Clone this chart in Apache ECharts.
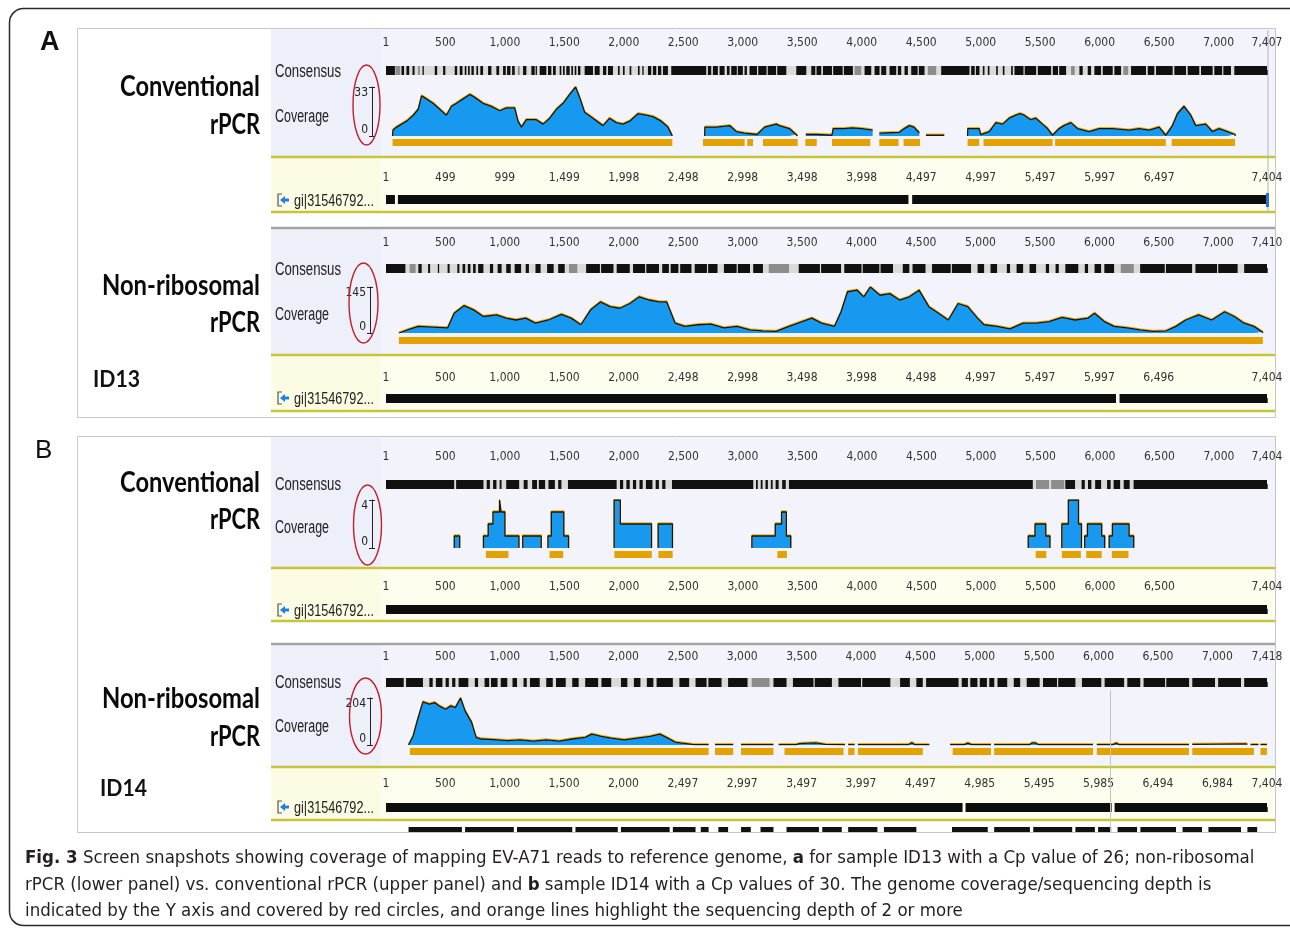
<!DOCTYPE html>
<html><head><meta charset="utf-8">
<script src="https://cdn.jsdelivr.net/npm/echarts@6/dist/echarts.min.js"></script>
<style>html,body{margin:0;padding:0;background:#fff}#c{width:1290px;height:929px}</style>
</head><body><div id="c"></div>
<script>
// ---------------- DATA ----------------
// Consensus-axis ticks (genome positions) per panel
const consTicksA1 = [1,500,1000,1500,2000,2500,3000,3500,4000,4500,5000,5500,6000,6500,7000,7407];
const consTicksA2 = [1,500,1000,1500,2000,2500,3000,3500,4000,4500,5000,5500,6000,6500,7000,7410];
const consTicksB1 = [1,500,1000,1500,2000,2500,3000,3500,4000,4500,5000,5500,6000,6500,7000,7404];
const consTicksB2 = [1,500,1000,1500,2000,2500,3000,3500,4000,4500,5000,5500,6000,6500,7000,7418];
// Reference-track ticks (at consensus positions) and their labels
const refPosA1 = [1,500,1000,1500,2000,2500,3000,3500,4000,4500,5000,5500,6000,6500,7407];
const refLabA1 = ['1','499','999','1,499','1,998','2,498','2,998','3,498','3,998','4,497','4,997','5,497','5,997','6,497','7,404'];
const refPosA2 = [1,500,1000,1500,2000,2500,3000,3500,4000,4500,5000,5500,6000,6500,7410];
const refLabA2 = ['1','500','1,000','1,500','2,000','2,498','2,998','3,498','3,998','4,498','4,997','5,497','5,997','6,496','7,404'];
const refPosB1 = [1,500,1000,1500,2000,2500,3000,3500,4000,4500,5000,5500,6000,6500,7404];
const refLabB1 = ['1','500','1,000','1,500','2,000','2,500','3,000','3,500','4,000','4,500','5,000','5,500','6,000','6,500','7,404'];
const refPosB2 = [1,500,1000,1500,2000,2500,3000,3500,4000,4500,5000,5500,6000,6500,7000,7418];
const refLabB2 = ['1','500','1,000','1,500','2,000','2,497','2,997','3,497','3,997','4,497','4,985','5,495','5,985','6,494','6,984','7,404'];
// Coverage y-axis maxima
const covMax = [33, 145, 4, 204];

// Coverage profiles [position, depth]; null = no reads
const covA1 = [[56,0],[60,4],[90,6],[174,10],[230,14],[272,18],[300,27],[341,25],[397,22],[453,18],[509,14],[551,20],[593,22],[649,25],[705,28],[747,26],[817,22],[887,20],[957,17],[1013,19],[1083,19],[1111,10],[1139,6],[1181,11],[1265,11],[1321,8],[1377,12],[1433,18],[1489,22],[1545,28],[1595,33],[1629,26],[1671,16],[1741,12],[1825,7],[1881,12],[1937,9],[1993,8],[2049,10],[2119,15],[2189,14],[2245,13],[2315,10],[2371,6],[2408,0],[2409,null],
 [2680,0],[2682,6],[2778,6],[2890,7],[2946,3],[3016,2],[3030,1],[3120,1],[3184,6],[3282,8],[3308,7],[3392,5],[3448,1],[3460,0],[3461,null],
 [3530,1],[3620,1],[3630,0.5],[3750,0.5],[3760,5],[3850,5],[3920,5.5],[4000,5],[4092,4],[4100,null],
 [4148,2],[4316,2.5],[4330,1.5],[4358,5],[4400,7],[4440,6],[4484,2],[4500,null],
 [4540,0.5],[4694,0.5],[4700,null],
 [4890,0],[4892,5],[4988,5],[5000,1],[5016,0.5],[5072,3],[5128,9],[5184,8],[5240,12],[5296,14],[5330,15],[5366,14],[5422,11],[5464,12],[5520,8],[5562,5],[5604,0.5],[5660,5],[5700,7],[5758,9],[5814,5],[5912,3],[5996,5],[6108,5],[6248,4],[6332,5],[6416,4],[6500,6],[6556,0.5],[6612,7],[6654,15],[6710,20],[6766,14],[6808,7],[6892,8],[6948,3],[7004,5],[7074,3],[7138,1],[7140,0]];
const covA2 = [[109,0],[112,3],[200,12],[273,21],[437,18],[519,16],[574,62],[656,86],[738,73],[820,52],[930,57],[1012,47],[1094,41],[1176,47],[1258,31],[1367,41],[1476,59],[1558,47],[1640,26],[1722,73],[1804,98],[1886,83],[1969,78],[2051,93],[2132,114],[2214,104],[2297,98],[2362,98],[2433,31],[2515,21],[2625,26],[2734,28],[2843,16],[2953,21],[3062,10],[3171,7],[3281,5],[3390,21],[3500,36],[3582,47],[3664,31],[3773,21],[3828,67],[3882,130],[3964,135],[4019,114],[4074,145],[4156,119],[4238,124],[4320,104],[4402,114],[4484,135],[4566,83],[4648,62],[4730,41],[4812,93],[4894,83],[4976,47],[5031,26],[5140,21],[5249,13],[5359,31],[5468,31],[5577,36],[5687,49],[5796,41],[5905,47],[5960,62],[6042,36],[6124,21],[6233,16],[6343,10],[6452,5],[6562,7],[6644,21],[6726,41],[6835,57],[6945,41],[7054,67],[7136,52],[7218,31],[7300,21],[7371,3],[7375,0]];
const covB1 = [[575,0],[575,1],[620,1],[620,0],[621,null],
 [820,0],[820,1],[860,1],[860,2],[900,2],[900,3],[955,3],[955,4],[968,4],[968,3],[1000,3],[1000,1],[1118,1],[1118,0],[1119,null],
 [1150,0],[1150,1],[1305,1],[1305,0],[1306,null],
 [1362,0],[1362,1],[1390,1],[1390,3],[1495,3],[1495,1],[1535,1],[1535,0],[1536,null],
 [1918,0],[1918,4],[1970,4],[1970,2],[2232,2],[2232,0],[2233,null],
 [2288,0],[2288,2],[2408,2],[2408,0],[2409,null],
 [3076,0],[3076,1],[3272,1],[3272,2],[3325,2],[3325,3],[3365,3],[3365,1],[3402,1],[3402,0],[3403,null],
 [5398,0],[5398,1],[5455,1],[5455,2],[5545,2],[5545,1],[5580,1],[5580,0],[5581,null],
 [5680,0],[5680,2],[5735,2],[5735,4],[5820,4],[5820,2],[5845,2],[5845,0],[5846,null],
 [5872,0],[5872,1],[5895,1],[5895,2],[6015,2],[6015,1],[6040,1],[6040,0],[6041,null],
 [6078,0],[6078,1],[6105,1],[6105,2],[6245,2],[6245,1],[6284,1],[6284,0]];
const covB2 = [[191,0],[230,40],[268,112],[312,187],[366,177],[410,184],[448,170],[503,155],[547,170],[585,162],[629,204],[667,148],[722,98],[760,33],[803,26],[913,23],[1022,19],[1131,22],[1241,17],[1350,22],[1459,17],[1569,26],[1678,33],[1733,47],[1815,37],[1897,30],[2006,22],[2115,30],[2225,37],[2307,47],[2361,33],[2443,11],[2580,3],[2600,2],[2717,2],[2718,null],
 [2771,2],[2924,2],[2925,null],
 [2990,2],[3263,2],[3264,null],
 [3307,2],[3455,2],[3482,6],[3560,8],[3620,9],[3700,3],[3865,2],[3866,null],
 [3892,2],[3946,2],[3947,null],
 [3974,2],[4400,2],[4430,10],[4450,2],[4575,2],[4576,null],
 [4750,2],[4870,2],[4900,8],[4930,2],[5094,2],[5095,null],
 [5121,2],[5420,2],[5440,9],[5470,9],[5490,2],[5953,2],[5954,null],
 [5985,2],[6120,2],[6150,8],[6170,2],[6761,2],[6762,null],
 [6789,3],[6800,5],[7240,5],[7253,3],[7254,null],
 [7280,2],[7346,2],[7347,null],
 [7363,2],[7417,2]];

// Depth >= 2 ranges (orange lines) [start, end]
const orangeA1 = [[56,2408],[2666,3016],[3038,3086],[3170,3462],[3526,3622],[3750,4072],[4148,4310],[4352,4490],[4890,4988],[5024,5604],[5626,6556],[6606,7138]];
const orangeA2 = [[109,7375]];
const orangeB1 = [[840,1030],[1375,1490],[1920,2235],[2290,2410],[3290,3370],[5460,5550],[5680,5840],[5885,6015],[6100,6240]];
const orangeB2 = [[202,2717],[2771,2924],[2990,3263],[3356,3853],[3892,3946],[3974,4520],[4772,5094],[5121,5953],[5985,6761],[6789,7308],[7363,7417]];

// Consensus bar segments [start, end, shade(0 black, 1 grey)]
const consA1 = [[1,76,0],[80,120,1],[131,153,0],[173,196,0],[224,241,0],[270,285,1],[308,319,0],[411,431,0],[481,500,0],[579,599,0],[621,644,0],[663,677,0],[691,705,0],[719,739,0],[761,775,0],[794,817,0],[859,887,0],[929,952,0],[985,1008,0],[1019,1047,0],[1061,1083,0],[1110,1125,1],[1153,1181,0],[1223,1251,0],[1259,1270,0],[1293,1349,0],[1363,1391,0],[1405,1428,0],[1461,1475,0],[1489,1503,0],[1517,1545,0],[1559,1573,0],[1587,1601,0],[1615,1635,0],[1671,1741,0],[1755,1797,0],[1825,1853,0],[1867,1909,0],[1951,1965,0],[1993,2007,0],[2049,2063,0],[2119,2133,0],[2156,2167,0],[2203,2231,0],[2245,2273,0],[2287,2315,0],[2329,2371,0],[2399,2693,0],[2707,2735,0],[2749,2791,0],[2805,2847,0],[2867,2889,0],[2903,2950,0],[2958,3001,0],[3015,3035,0],[3057,3120,0],[3130,3200,0],[3210,3280,0],[3290,3366,0],[3450,3534,0],[3576,3610,0],[3620,3660,0],[3674,3750,0],[3760,3840,0],[3850,3926,0],[3940,3996,1],[4024,4080,0],[4108,4150,0],[4164,4206,0],[4234,4290,0],[4304,4332,0],[4360,4388,0],[4416,4470,0],[4480,4528,0],[4556,4626,1],[4668,4906,0],[4920,4950,0],[4960,4990,0],[5018,5032,0],[5060,5074,0],[5130,5144,0],[5186,5200,0],[5256,5270,0],[5284,5360,0],[5370,5466,0],[5480,5592,0],[5606,5650,0],[5660,5718,0],[5760,5790,1],[5830,5858,0],[5900,5928,0],[5956,6012,0],[6026,6110,0],[6124,6180,0],[6200,6240,1],[6264,6390,0],[6404,6460,0],[6474,6614,0],[6628,6726,0],[6740,6838,0],[6852,6950,0],[6964,7030,0],[7040,7104,0],[7132,7407,0]];
const consA2 = [[1,164,0],[200,250,1],[273,301,0],[355,372,0],[437,448,0],[519,536,0],[601,618,0],[645,667,0],[689,711,0],[733,755,0],[776,820,0],[875,902,0],[940,973,0],[1012,1050,0],[1083,1137,0],[1176,1203,0],[1258,1301,0],[1356,1411,0],[1449,1504,0],[1540,1610,1],[1684,1800,0],[1810,1914,0],[1941,2051,0],[2078,2180,0],[2190,2297,0],[2324,2380,0],[2395,2460,0],[2475,2570,0],[2597,2700,0],[2710,2789,0],[2843,2950,0],[2960,3062,0],[3089,3171,0],[3220,3390,1],[3472,3650,0],[3660,3828,0],[3855,4000,0],[4010,4150,0],[4160,4265,0],[4347,4402,0],[4429,4538,0],[4593,4750,0],[4760,4921,0],[4976,5031,0],[5085,5140,0],[5222,5249,0],[5304,5359,0],[5413,5468,0],[5550,5577,0],[5632,5659,0],[5714,5823,0],[5878,5905,0],[5960,6015,0],[6042,6124,0],[6180,6290,1],[6343,6550,0],[6560,6780,0],[6808,6990,0],[7000,7163,0],[7218,7410,0]];
const consB1 = [[1,574,0],[590,820,0],[847,874,0],[901,929,0],[956,972,0],[1011,1120,0],[1158,1191,0],[1229,1270,0],[1285,1338,0],[1366,1420,0],[1448,1475,0],[1530,1939,0],[1967,1994,0],[2021,2049,0],[2076,2103,0],[2131,2158,0],[2185,2240,0],[2267,2294,0],[2322,2349,0],[2404,3087,0],[3110,3125,0],[3150,3165,0],[3190,3210,0],[3235,3250,0],[3275,3300,0],[3330,3360,0],[3387,5436,0],[5463,5573,1],[5590,5700,1],[5709,5791,0],[5846,5873,0],[5900,5928,0],[5960,6010,0],[6060,6090,0],[6115,6170,0],[6200,6250,0],[6283,7404,0]];
const consB2 = [[1,150,0],[170,312,0],[366,394,0],[421,476,0],[503,530,0],[558,585,0],[612,694,0],[749,776,0],[831,870,0],[885,940,0],[967,1022,0],[1066,1104,0],[1159,1186,0],[1213,1295,0],[1350,1405,0],[1432,1514,0],[1569,1623,0],[1678,1787,0],[1815,1897,0],[1979,2033,0],[2088,2143,0],[2197,2252,0],[2279,2416,0],[2471,2553,0],[2607,2700,0],[2715,2826,0],[2881,3045,0],[3080,3230,1],[3263,3373,0],[3427,3600,0],[3610,3755,0],[3810,4000,0],[4010,4247,0],[4329,4411,0],[4466,4520,0],[4548,4821,0],[4848,4900,0],[4920,4980,0],[5000,5060,0],[5080,5122,0],[5149,5231,0],[5286,5340,0],[5395,5504,0],[5532,5650,0],[5660,5805,0],[5860,6023,0],[6051,6215,0],[6242,6351,0],[6379,6560,0],[6570,6762,0],[6789,6980,0],[7007,7199,0],[7226,7418,0]];

// Reference sequence bars [start, end]
const refA1 = [[1,76],[101,4393],[4424,7407]];
const refA2 = [[1,6140],[6170,7410]];
const refB1 = [[1,7404]];
const refB2 = [[1,4855],[4880,6110],[6135,7418]];
// Read track partly visible under panel B (lower)
const readsB2 = [[191,640],[667,1077],[1104,1569],[1596,1952],[1979,2389],[2416,2607],[2651,2717],[2799,2881],[2990,3072],[3154,3263],[3373,3646],[3674,3838],[3892,4138],[4193,4466],[4766,5067],[5121,5422],[5450,5778],[5805,5969],[5996,6106],[6160,6324],[6352,6652],[6707,6871],[6925,7199],[7253,7335]];

// ---------------- LAYOUT ----------------
const NARROW = '"Liberation Sans Narrow","DejaVu Sans Condensed",sans-serif';
const SANS = '"Liberation Sans",Arial,sans-serif';
const panels = [
 {cons:consA1, cov:covA1, orange:orangeA1, ref:refA1, ct:consTicksA1, rp:refPosA1, rl:refLabA1, ymax:covMax[0],
  consTop:66, consOff:8, consMargin:9, covTop:87, covH:49, orTop:139, refTop:195, refOff:2, refMargin:9, yOff:14},
 {cons:consA2, cov:covA2, orange:orangeA2, ref:refA2, ct:consTicksA2, rp:refPosA2, rl:refLabA2, ymax:covMax[1],
  consTop:264, consOff:6, consMargin:9, covTop:287, covH:46, orTop:337, refTop:394, refOff:1, refMargin:9, yOff:16},
 {cons:consB1, cov:covB1, orange:orangeB1, ref:refB1, ct:consTicksB1, rp:refPosB1, rl:refLabB1, ymax:covMax[2],
  consTop:480, consOff:7, consMargin:10, covTop:500, covH:48, orTop:551, refTop:605, refOff:2, refMargin:10, yOff:14},
 {cons:consB2, cov:covB2, orange:orangeB2, ref:refB2, ct:consTicksB2, rp:refPosB2, rl:refLabB2, ymax:covMax[3],
  consTop:678, consOff:6, consMargin:9, covTop:698, covH:47, orTop:748, refTop:803, refOff:2, refMargin:11, yOff:16}
];

const grids=[], xAxes=[], yAxes=[], series=[];
function addGrid(top,height){ grids.push({left:386,width:881,top:top,height:height,containLabel:false,outerBoundsMode:'none'}); return grids.length-1; }
const shadeColor = ['#111111','#8c8c8c','#dadada'];
function rectItem(color){
  return function(params, api){
    const a = api.coord([api.value(0), 1]);
    const b = api.coord([api.value(1), 0]);
    const c = color || shadeColor[api.value(2)];
    return {type:'rect', shape:{x:a[0], y:a[1], width:Math.max(b[0]-a[0],0.8), height:b[1]-a[1]}, style:{fill:c}};
  };
}
function tickAxis(ticks, fmt, offset, margin){
  return {show:true, position:'top', offset:offset,
    axisLine:{show:false}, splitLine:{show:false},
    axisTick:{show:true, customValues:ticks, length:5, lineStyle:{color:'#555',width:1}},
    axisLabel:{show:true, customValues:ticks, margin:margin, formatter:fmt, fontSize:12, color:'#333', fontFamily:NARROW, showMinLabel:true, showMaxLabel:true, hideOverlap:false}};
}
function addTrack(top, height, max, data, color, axisCfg){
  const g = addGrid(top, height);
  xAxes.push(Object.assign({type:'value', gridIndex:g, min:1, max:max}, axisCfg || {show:false}));
  yAxes.push({type:'value', gridIndex:g, min:0, max:1, show:false});
  series.push({type:'custom', xAxisIndex:xAxes.length-1, yAxisIndex:yAxes.length-1, data:data,
    encode:{x:[0,1]}, renderItem:rectItem(color), silent:true, animation:false, clip:true});
}
function splitSegs(arr){
  const out=[]; let cur=[];
  arr.forEach(p=>{ if(p[1]===null){ if(cur.length) out.push(cur); cur=[]; } else cur.push(p); });
  if(cur.length) out.push(cur);
  return out;
}
const fmtNum = v => v===1 ? '1' : Number(v).toLocaleString('en-US');

panels.forEach(p=>{
  const max = p.ct[p.ct.length-1];
  addTrack(p.consTop, 9, max, [[1,max,2]].concat(p.cons), null, tickAxis(p.ct, fmtNum, p.consOff, p.consMargin));
  const g = addGrid(p.covTop, p.covH);
  xAxes.push({type:'value', gridIndex:g, min:1, max:max, show:false});
  const xi = xAxes.length-1;
  yAxes.push({type:'value', gridIndex:g, min:0, max:p.ymax, interval:p.ymax, position:'left', offset:p.yOff,
    axisLine:{show:true, lineStyle:{color:'#222', width:1}}, axisTick:{show:true, length:3, lineStyle:{color:'#222'}},
    splitLine:{show:false},
    axisLabel:{margin:4, fontSize:12, color:'#222', fontFamily:NARROW, verticalAlign:'top', formatter:v=> v===p.ymax ? String(v) : ''}});
  const yi = yAxes.length-1;
  yAxes.push({type:'value', gridIndex:g, min:0, max:p.ymax, interval:p.ymax, position:'left', offset:p.yOff,
    axisLine:{show:false}, axisTick:{show:true, inside:true, length:3, lineStyle:{color:'#222'}},
    splitLine:{show:false},
    axisLabel:{margin:4, fontSize:12, color:'#222', fontFamily:NARROW, verticalAlign:'bottom', formatter:v=> v===0 ? '0' : ''}});
  splitSegs(p.cov).forEach(seg=>{
    series.push({type:'line', xAxisIndex:xi, yAxisIndex:yi, data:seg, showSymbol:false, symbol:'none',
      lineStyle:{color:'#151515', width:1.3, shadowColor:'#f2ad00', shadowOffsetY:-1, shadowBlur:0},
      areaStyle:{color:'#1799ef', opacity:1}, silent:true, animation:false, clip:true, z:3});
  });
  addTrack(p.orTop, 7, max, p.orange, '#e3a200');
  const rmap = {}; p.rp.forEach((v,i)=>{ rmap[v]=p.rl[i]; });
  addTrack(p.refTop, 9, max, p.ref, '#0d0d0d', tickAxis(p.rp, v=> rmap[v]!==undefined ? rmap[v] : '', p.refOff, p.refMargin));
});
addTrack(827, 5, consTicksB2[consTicksB2.length-1], readsB2, '#111');

// ---------------- DECORATION ----------------
const G = [];
const mctx = document.createElement('canvas').getContext('2d');
function fitScale(t, weight, size, family, target){
  if(!target) return 1;
  mctx.font = (weight||'normal') + ' ' + size + 'px ' + family;
  const w = mctx.measureText(t).width;
  return w > 0 ? target / w : 1;
}
function rect(x,y,w,h,fill,stroke,lw,z,r){ G.push({type:'rect', z:z||-20, silent:true, shape:{x:x,y:y,width:w,height:h,r:r||0}, style:{fill:fill||'none', stroke:stroke||null, lineWidth:lw||0}}); }
function hline(x1,x2,y,color,w,z){ G.push({type:'line', z:z||-5, silent:true, shape:{x1:x1,y1:y,x2:x2,y2:y}, style:{stroke:color, lineWidth:w}}); }
function vline(x,y1,y2,color,w,z){ G.push({type:'line', z:z||-5, silent:true, shape:{x1:x,y1:y1,x2:x,y2:y2}, style:{stroke:color, lineWidth:w}}); }
function text(t,x,y,opts,target){
  const o = Object.assign({text:t, x:0, y:0, fill:'#111', textVerticalAlign:'middle', textAlign:'left', fontFamily:NARROW, fontSize:16, fontWeight:'normal'}, opts||{});
  const s = target ? fitScale(t, o.fontWeight, o.fontSize, o.fontFamily, target) : 1;
  G.push({type:'text', z:50, silent:true, x:x, y:y, scaleX:s, style:o});
}
function ellipse(cx,cy,rx,ry){ G.push({type:'ellipse', z:60, silent:true, shape:{cx:cx,cy:cy,rx:rx,ry:ry}, style:{fill:'none', stroke:'#c41e2a', lineWidth:1.4}}); }

rect(9.5, 8.5, 1300, 917, '#ffffff', '#2a2a2a', 1.5, -40, 14);
rect(77.5, 28.5, 1198, 389, '#ffffff', '#c6c6c6', 1, -30);
rect(77.5, 436.5, 1198, 396, '#ffffff', '#c6c6c6', 1, -30);
const LAV1='#edeff9', LAV2='#f3f4fb', CR1='#fcfce4', CR2='#fefeee', YEL='#c5c43a';
function subpanel(lt, lb, cb){
  rect(271, lt, 110, lb-lt, LAV1, null, 0, -25);
  rect(381, lt, 894, lb-lt, LAV2, null, 0, -25);
  hline(271, 1275, lb+1, YEL, 2.5);
  rect(271, lb+2.5, 110, cb-lb-3.5, CR1, null, 0, -25);
  rect(381, lb+2.5, 894, cb-lb-3.5, CR2, null, 0, -25);
  hline(271, 1275, cb, YEL, 2.5);
}
subpanel(29, 156, 212);
hline(271, 1275, 228, '#a3a3a3', 2.5);
subpanel(229.5, 354, 411);
subpanel(437, 567, 621);
hline(271, 1275, 644, '#a3a3a3', 2.5);
subpanel(645.5, 766, 820);
vline(1268, 30, 211, '#a8b3c9', 1, -4);
rect(1266, 193, 3, 14, '#2f6fd0', null, 0, 40);
vline(1110.5, 690, 832, '#c4c4c4', 1, 40);

// panel letters / sample labels
text('A', 40, 43, {fontFamily:SANS, fontWeight:'bold', fontSize:27});
text('B', 35, 451, {fontFamily:SANS, fontSize:26});
const BIGF = 'Lato,"Open Sans",sans-serif';
const big = {fontFamily:BIGF, fontWeight:'bold', fontSize:29, textAlign:'right', fill:'#0a0a0a'};
text('Conventional', 260, 87, big, 140); text('rPCR', 260, 125, big, 50);
text('Non-ribosomal', 260, 286, big, 158); text('rPCR', 260, 323, big, 50);
text('Conventional', 260, 483, big, 140); text('rPCR', 260, 520, big, 50);
text('Non-ribosomal', 260, 699, big, 158); text('rPCR', 260, 737, big, 50);
text('ID13', 93, 380, {fontFamily:BIGF, fontWeight:'bold', fontSize:23}, 47);
text('ID14', 100, 789, {fontFamily:BIGF, fontWeight:'bold', fontSize:23}, 47);
[[72,117,200],[270,315,398],[485,528,610],[683,727,807]].forEach(r=>{
  text('Consensus', 275, r[0], {fontFamily:SANS, fontSize:18, fill:'#222'}, 66);
  text('Coverage', 275, r[1], {fontFamily:SANS, fontSize:18, fill:'#222'}, 54);
  text('gi|31546792...', 294, r[2]+1, {fontFamily:SANS, fontSize:17, fill:'#222'}, 80);
  G.push({type:'polyline', z:50, silent:true, shape:{points:[[282,r[2]-6],[278,r[2]-6],[278,r[2]+6],[282,r[2]+6]]}, style:{stroke:'#555', lineWidth:1.2, fill:'none'}});
  G.push({type:'polygon', z:50, silent:true, shape:{points:[[280,r[2]],[285,r[2]-4],[285,r[2]-1.5],[289,r[2]-1.5],[289,r[2]+1.5],[285,r[2]+1.5],[285,r[2]+4]]}, style:{fill:'#1f7fe0'}});
});
ellipse(366.5, 105, 13.5, 40);
ellipse(363.5, 303, 14.5, 40);
ellipse(367.5, 525, 14, 40);
ellipse(365.5, 716, 16, 38);

// caption
const capRich = {b:{fontWeight:'bold', fontFamily:NARROW, fontSize:18.5, fill:'#231f20'}};
const capStyle = {fontFamily:NARROW, fontSize:18.5, fill:'#231f20', rich:capRich};
text('{b|Fig. 3} Screen snapshots showing coverage of mapping EV-A71 reads to reference genome, {b|a} for sample ID13 with a Cp value of 26; non-ribosomal', 25, 858, capStyle);
text('rPCR (lower panel) vs. conventional rPCR (upper panel) and {b|b} sample ID14 with a Cp values of 30. The genome coverage/sequencing depth is', 25, 885, capStyle);
text('indicated by the Y axis and covered by red circles, and orange lines highlight the sequencing depth of 2 or more', 25, 911, capStyle);

const chart = echarts.init(document.getElementById('c'), null, {renderer:'canvas'});
chart.setOption({animation:false, backgroundColor:'#ffffff', grid:grids, xAxis:xAxes, yAxis:yAxes, series:series, graphic:{elements:G}});
</script></body></html>
